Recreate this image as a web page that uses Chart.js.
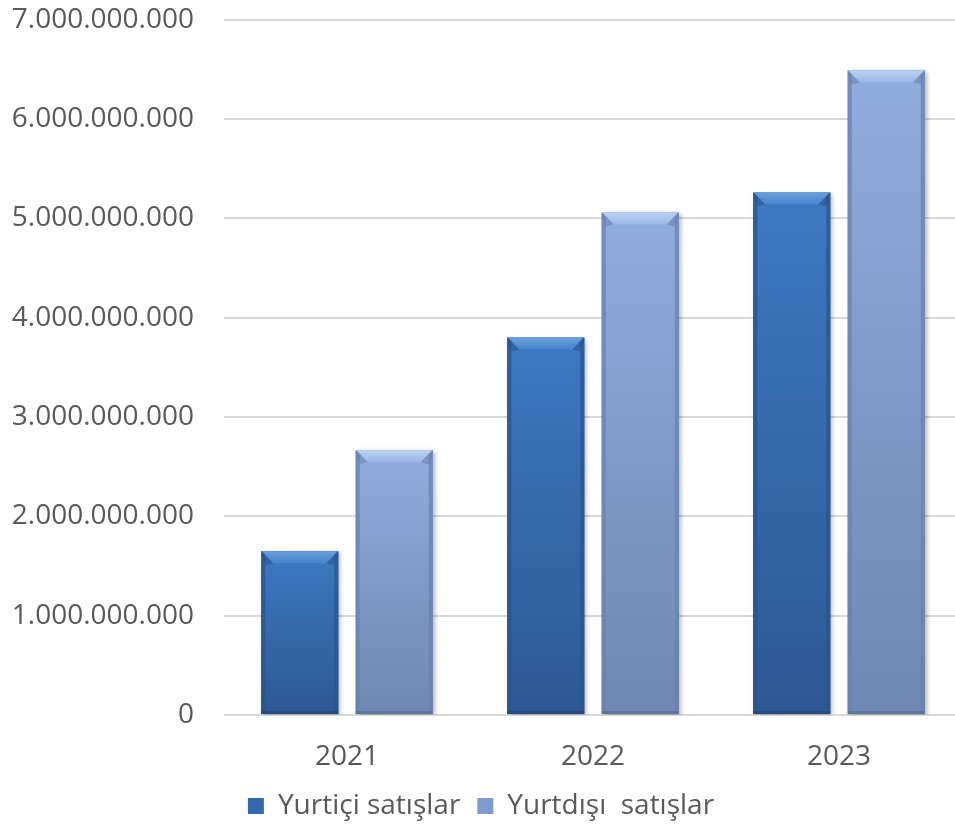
<!DOCTYPE html>
<html>
<head>
<meta charset="utf-8">
<script src="https://cdn.jsdelivr.net/npm/chart.js@4/dist/chart.umd.min.js"></script>
<style>
  html, body { margin: 0; padding: 0; background: #fff; overflow: hidden; }
  #wrap { width: 962px; height: 866px; margin-top: -27px; }
</style>
</head>
<body>
<div id="wrap"><canvas id="salesChart"></canvas></div>
<script>
const years = ["2021", "2022", "2023"];
const domesticSales = [1650000000, 3800000000, 5260000000];
const exportSales = [2665000000, 5060000000, 6490000000];
const seriesNames = ["Yurtiçi satışlar", "Yurtdışı  satışlar"];

// colours for the bevelled bars: body top/bottom, edge, bevel top/bottom
const palettes = [
  { top: "#3d79c2", bottom: "#2d5893", edge: "#2a548e", bevTop: "#6a9fdc", bevBottom: "#4784cb", solid: "#3468ad" },
  { top: "#90addf", bottom: "#6f87b2", edge: "#6a82ad", bevTop: "#bcd2f2", bevBottom: "#98b6e6", solid: "#7f9bcb" }
];

const fmt = (v) => String(v).replace(/\B(?=(\d{3})+(?!\d))/g, ".");

const bevelPlugin = {
  id: "bevel",
  beforeDatasetsDraw(chart) {
    const ctx = chart.ctx;
    ctx.save();
    ctx.shadowColor = "rgba(0,0,0,0.35)";
    ctx.shadowBlur = 5;
    ctx.shadowOffsetX = 2;
    ctx.shadowOffsetY = 2;
  },
  afterDatasetsDraw(chart) {
    const ctx = chart.ctx;
    ctx.restore();
    chart.data.datasets.forEach((ds, i) => {
      const pal = palettes[i];
      chart.getDatasetMeta(i).data.forEach((bar) => {
        const l = bar.x - bar.width / 2, r = bar.x + bar.width / 2;
        const t = bar.y, b = bar.base;
        const g = ctx.createLinearGradient(0, t, 0, b);
        g.addColorStop(0, pal.top);
        g.addColorStop(1, pal.bottom);
        ctx.fillStyle = g;
        ctx.fillRect(l, t, r - l, b - t);

        const e = 4, bv = 12;
        // side edges
        ctx.fillStyle = pal.edge;
        ctx.globalAlpha = 0.75;
        ctx.beginPath();
        ctx.moveTo(l, t); ctx.lineTo(l + e, t + e); ctx.lineTo(l + e, b); ctx.lineTo(l, b);
        ctx.closePath(); ctx.fill();
        ctx.beginPath();
        ctx.moveTo(r, t); ctx.lineTo(r - e, t + e); ctx.lineTo(r - e, b); ctx.lineTo(r, b);
        ctx.closePath(); ctx.fill();
        ctx.globalAlpha = 1;
        // top bevel
        const bg = ctx.createLinearGradient(0, t, 0, t + bv);
        bg.addColorStop(0, pal.bevTop);
        bg.addColorStop(1, pal.bevBottom);
        ctx.fillStyle = bg;
        ctx.beginPath();
        ctx.moveTo(l + 1, t); ctx.lineTo(r - 1, t); ctx.lineTo(r - bv, t + bv); ctx.lineTo(l + bv, t + bv);
        ctx.closePath(); ctx.fill();
        // corner triangles
        ctx.fillStyle = pal.edge;
        ctx.globalAlpha = 0.55;
        ctx.beginPath();
        ctx.moveTo(l, t); ctx.lineTo(l + bv, t + bv); ctx.lineTo(l + e, t + bv + 2); ctx.lineTo(l, t + e);
        ctx.closePath(); ctx.fill();
        ctx.beginPath();
        ctx.moveTo(r, t); ctx.lineTo(r - bv, t + bv); ctx.lineTo(r - e, t + bv + 2); ctx.lineTo(r, t + e);
        ctx.closePath(); ctx.fill();
        ctx.globalAlpha = 1;
        // bottom darkening
        ctx.fillStyle = "rgba(0,0,0,0.12)";
        ctx.fillRect(l, b - 3, r - l, 3);
      });
    });
  }
};

Chart.defaults.font.family = "'Open Sans', sans-serif";
Chart.defaults.color = "#595959";

new Chart(document.getElementById("salesChart"), {
  type: "bar",
  data: {
    labels: years,
    datasets: [
      { label: seriesNames[0], data: domesticSales, backgroundColor: palettes[0].solid, borderWidth: 0 },
      { label: seriesNames[1], data: exportSales, backgroundColor: palettes[1].solid, borderWidth: 0 }
    ]
  },
  options: {
    responsive: true,
    maintainAspectRatio: false,
    animation: false,
    categoryPercentage: 0.768,
    barPercentage: 0.815,
    layout: { padding: { top: 0, left: 0, right: 0, bottom: 9 } },
    plugins: {
      tooltip: { enabled: false },
      legend: {
        position: "bottom",
        labels: {
          font: { size: 28 },
          boxWidth: 16,
          boxHeight: 16,
          padding: 17
        }
      }
    },
    scales: {
      x: {
        grid: { display: false, drawTicks: false },
        border: { display: false },
        ticks: { font: { size: 28 }, padding: 25 },
        afterFit(scale) { scale.height = 60; }
      },
      y: {
        min: 0,
        max: 7000000000,
        afterFit(scale) { scale.width = 224; },
        grid: { color: "#d9d9d9", lineWidth: 2, drawTicks: false },
        border: { display: false },
        ticks: {
          stepSize: 1000000000,
          font: { size: 28 },
          padding: 30,
          callback: (v) => fmt(v)
        }
      }
    }
  },
  plugins: [bevelPlugin]
});
</script>
</body>
</html>
